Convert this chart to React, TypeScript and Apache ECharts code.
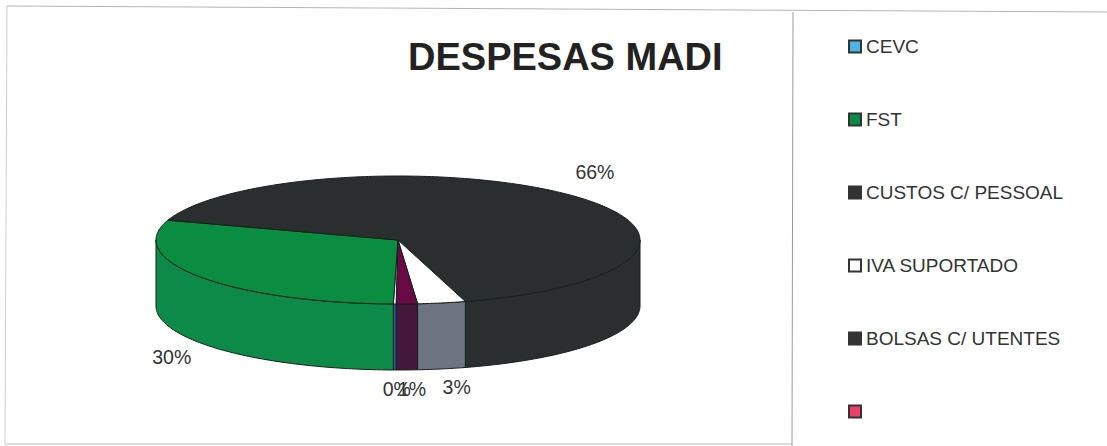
import React, { useEffect, useRef } from "react";
import * as echarts from "echarts";

const categories = ["CEVC", "FST", "CUSTOS C/ PESSOAL", "IVA SUPORTADO", "BOLSAS C/ UTENTES", " "];
const values = [0.2, 29.7, 65.5, 3.2, 1.4, 0];
const legendColors = ["#4db4e6", "#0b8a4a", "#333333", "#ffffff", "#333333", "#e8406a"];
const topColors = ["#dfeef5", "#0a8c41", "#2a2e2e", "#ffffff", "#6a0a44", "#e8406a"];
const sideColors = ["#1d5a9e", "#0d8a47", "#2a2e2e", "#6c7580", "#43183a", "#e8406a"];
const labelOffsets = [[2, 19], [-29, 14], [23, -23], [15, 18], [5, 19], [0, 0]];

const CX = 398, CY = 240, RX = 242, RY = 64, DEPTH = 66, START = 90.4;

function pt(deg: number, dy = 0) {
  const r = (deg * Math.PI) / 180;
  return [CX + RX * Math.cos(r), CY + RY * Math.sin(r) + dy];
}
function arc(a0: number, a1: number, dy = 0) {
  const n = Math.max(2, Math.ceil(Math.abs(a1 - a0)));
  const out: number[][] = [];
  for (let i = 0; i <= n; i++) out.push(pt(a0 + ((a1 - a0) * i) / n, dy));
  return out;
}

function sliceRange(index: number) {
  const total = values.reduce((s, v) => s + v, 0);
  const before = values.slice(0, index).reduce((s, v) => s + v, 0);
  const a0 = START + (before / total) * 360;
  const a1 = a0 + (values[index] / total) * 360;
  return [a0, a1];
}

const edge = { stroke: "#15201c", lineWidth: 1 };

function renderSlice(index: number) {
  return () => {
    if (values[index] <= 0) return { type: "group", children: [] };
    const [a0, a1] = sliceRange(index);
    const children: any[] = [];
    for (const shift of [0, -360]) {
      const from = Math.max(a0 + shift, 0);
      const to = Math.min(a1 + shift, 180);
      if (to > from) {
        children.push({
          type: "polygon",
          shape: { points: [...arc(from, to), ...arc(to, from, DEPTH)] },
          style: { fill: sideColors[index], ...edge },
        });
      }
    }
    children.push({
      type: "polygon",
      z2: 5,
      shape: { points: [[CX, CY], ...arc(a0, a1)] },
      style: { fill: topColors[index], ...edge },
    });
    const mid = pt((a0 + a1) / 2);
    const [ox, oy] = labelOffsets[index];
    const front = Math.sin((((a0 + a1) / 2) * Math.PI) / 180) > 0;
    children.push({
      type: "text",
      z2: 10,
      style: {
        x: mid[0] + ox,
        y: mid[1] + oy + (front ? DEPTH : 0),
        text: Math.round(values[index]) + "%",
        fill: "#333333",
        fontFamily: "Liberation Sans",
        fontSize: 19.5,
        align: "center",
        verticalAlign: "middle",
      },
    });
    return { type: "group", children };
  };
}

export default function App() {
  const ref = useRef<HTMLDivElement>(null);
  useEffect(() => {
    const chart = echarts.init(ref.current!, undefined, { renderer: "svg" });
    chart.setOption({
      animation: false,
      backgroundColor: "#ffffff",
      title: {
        text: "DESPESAS MADI",
        left: 403,
        top: 33,
        textStyle: { fontFamily: "Liberation Sans", fontWeight: "bold", fontSize: 38, color: "#222222" },
      },
      legend: {
        orient: "vertical",
        left: 843,
        top: 32,
        itemWidth: 12,
        itemHeight: 12,
        itemGap: 54,
        icon: "rect",
        selectedMode: false,
        data: categories,
        textStyle: { fontFamily: "Liberation Sans", fontSize: 19, color: "#333333", padding: [0, 0, 0, 0] },
      },
      graphic: [
        { type: "line", shape: { x1: 7, y1: 6, x2: 1107, y2: 12 }, style: { stroke: "#b4b4b4", lineWidth: 1 } },
        { type: "line", shape: { x1: 7, y1: 6, x2: 5, y2: 443 }, style: { stroke: "#cccccc", lineWidth: 1 } },
        { type: "line", shape: { x1: 793, y1: 12, x2: 792, y2: 446 }, style: { stroke: "#999999", lineWidth: 1 } },
        { type: "line", shape: { x1: 5, y1: 444, x2: 792, y2: 444 }, style: { stroke: "#bbbbbb", lineWidth: 1 } },
      ],
      series: categories.map((name, i) => ({
        type: "custom",
        name,
        coordinateSystem: "none",
        data: [values[i]],
        itemStyle: { color: legendColors[i], borderColor: "#333333", borderWidth: 1.5 },
        renderItem: renderSlice(i),
      })),
    });
    return () => chart.dispose();
  }, []);
  return <div ref={ref} style={{ position: "fixed", left: 0, top: 0, width: 1107, height: 446 }} />;
}
